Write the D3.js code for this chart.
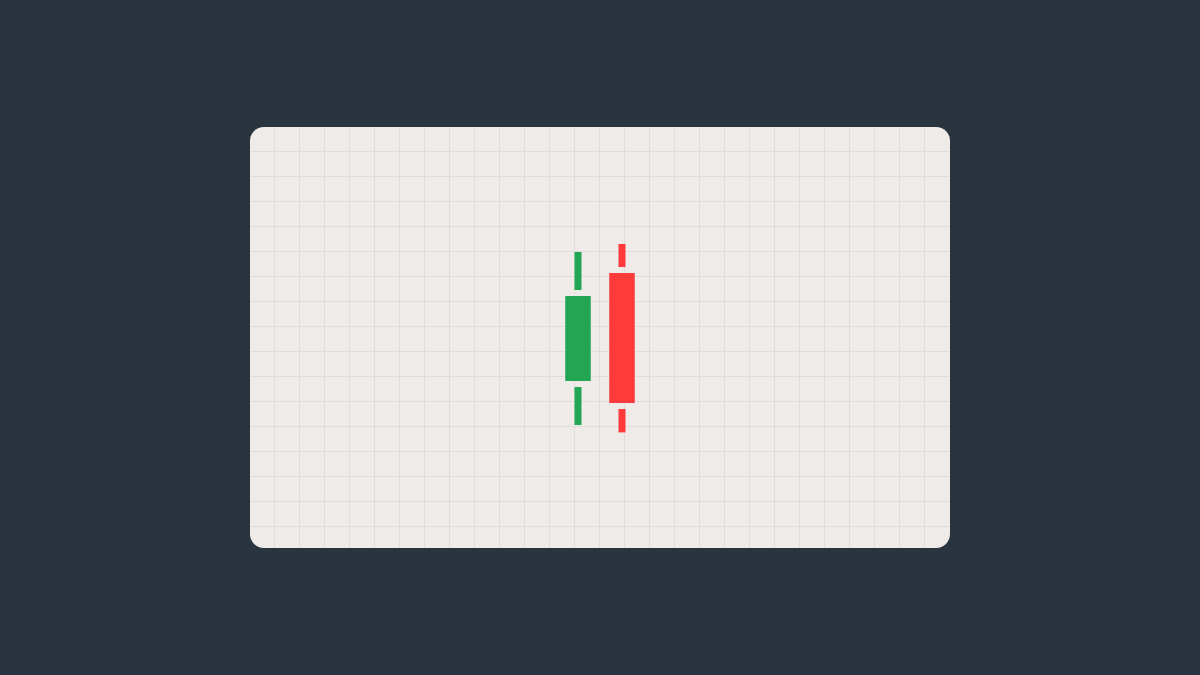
<!DOCTYPE html>
<html>
<head>
<meta charset="utf-8">
<script src="https://cdn.jsdelivr.net/npm/d3@7"></script>
<style>
  html, body { margin: 0; padding: 0; background: #29343e; }
  svg { display: block; }
</style>
</head>
<body>
<svg id="chart" width="1200" height="675"></svg>
<script>
// candle data, price units (4px per unit on screen)
var candles = ["c1", "c2"];
var openVals = [41.75, 68.75];
var closeVals = [63, 36.25];
var highVals = [74, 76];
var lowVals = [30.75, 28.9];

var width = 1200,
	height = 675;

var card = {x: 250, y: 127, w: 700, h: 421, r: 14};
var gridStep = 25;
var wickGap = 6;

var svg = d3.select("#chart");

svg.append("rect")
	.attr("width", width)
	.attr("height", height)
	.attr("fill", "#29343e");

svg.append("rect")
	.attr("x", card.x)
	.attr("y", card.y)
	.attr("width", card.w)
	.attr("height", card.h)
	.attr("rx", card.r)
	.attr("fill", "#efebe8");

// background grid
var grid = svg.append("g").attr("stroke", "#e0dcd9").attr("stroke-width", 1);
d3.range(card.x + gridStep, card.x + card.w, gridStep).forEach(function(x) {
	grid.append("line")
		.attr("x1", x - 0.5).attr("x2", x - 0.5)
		.attr("y1", card.y).attr("y2", card.y + card.h);
});
d3.range(card.y + gridStep, card.y + card.h, gridStep).forEach(function(y) {
	grid.append("line")
		.attr("x1", card.x).attr("x2", card.x + card.w)
		.attr("y1", y - 0.5).attr("y2", y - 0.5);
});

var xScale = d3.scaleBand()
	.domain(candles)
	.range([556, 644]);

var yScale = d3.scaleLinear()
	.domain([0, card.h / 4])
	.range([card.y + card.h, card.y]);

var data = candles.map(function(c, i) {
	return {id: c, open: openVals[i], close: closeVals[i], high: highVals[i], low: lowVals[i]};
});

var bodyW = 25.5,
	wickW = 7;

var g = svg.append("g");

data.forEach(function(d) {
	var up = d.close >= d.open;
	var color = up ? "#22a653" : "#fe3b3b";
	var cx = xScale(d.id) + xScale.bandwidth() / 2;
	var top = yScale(Math.max(d.open, d.close));
	var bot = yScale(Math.min(d.open, d.close));

	g.append("rect")
		.attr("x", cx - wickW / 2)
		.attr("y", yScale(d.high))
		.attr("width", wickW)
		.attr("height", top - wickGap - yScale(d.high))
		.attr("fill", color);

	g.append("rect")
		.attr("x", cx - wickW / 2)
		.attr("y", bot + wickGap)
		.attr("width", wickW)
		.attr("height", yScale(d.low) - bot - wickGap)
		.attr("fill", color);

	g.append("rect")
		.attr("x", cx - bodyW / 2)
		.attr("y", top)
		.attr("width", bodyW)
		.attr("height", bot - top)
		.attr("fill", color);
});
</script>
</body>
</html>
